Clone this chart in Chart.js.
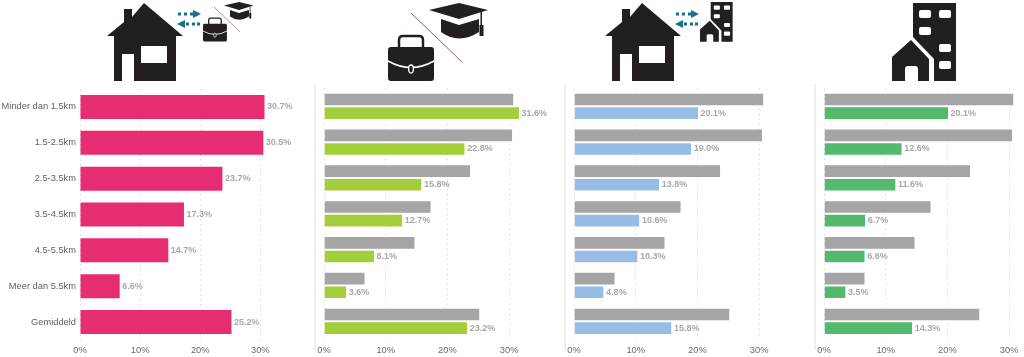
<!DOCTYPE html>
<html lang="nl">
<head>
<meta charset="utf-8">
<title>Afstand</title>
<script src="https://cdn.jsdelivr.net/npm/chart.js@4"></script>
<style>
  html, body { margin: 0; padding: 0; background: #fff; overflow: hidden; }
  #page { position: relative; width: 1024px; height: 357px; overflow: hidden; }
  canvas { position: absolute; top: 0; }
  .sep { position: absolute; top: 84px; width: 2px; height: 266px; background: #efefef; }
  #icons { position: absolute; left: 0; top: 0; }
</style>
</head>
<body>
<div id="page">
  <div class="sep" style="left:314px"></div>
  <div class="sep" style="left:564px"></div>
  <div class="sep" style="left:814px"></div>
  <canvas id="c1" width="310" height="357" style="left:0"></canvas>
  <canvas id="c2" width="255" height="357" style="left:300px"></canvas>
  <canvas id="c3" width="255" height="357" style="left:550px"></canvas>
  <canvas id="c4" width="255" height="357" style="left:800px"></canvas>

  <svg id="icons" width="1024" height="84" viewBox="0 0 1024 84">
    <defs>
      <symbol id="huis" overflow="visible">
        <path fill="#231f20" d="M37 0 L76 33 H69 V78 H27 V51 H15 V78 H7 V33 H0 L17 19 V6 H25 V14 Z"/>
        <rect x="34" y="43" width="26" height="17" fill="#fff"/>
      </symbol>
      <symbol id="koffer" overflow="visible">
        <path d="M11 14 V6 Q11 2 15 2 H31 Q35 2 35 6 V14" fill="none" stroke="#231f20" stroke-width="2.5"/>
        <rect x="0" y="13" width="46" height="34" rx="3" fill="#231f20"/>
        <path d="M0 27 Q23 40 46 27" fill="none" stroke="#fff" stroke-width="1.6"/>
        <ellipse cx="23" cy="35" rx="2.4" ry="4" fill="#231f20" stroke="#fff" stroke-width="1.3"/>
      </symbol>
      <symbol id="hoed" overflow="visible">
        <path fill="#231f20" d="M12 16 L30 22 L50 16 V29 Q30 42 12 29 Z"/>
        <path fill="#231f20" d="M0 7 L30 0 L59 7 L30 16 Z"/>
        <rect x="51.5" y="9" width="1.5" height="14" fill="#231f20"/>
        <rect x="50.5" y="22" width="4" height="11" fill="#231f20"/>
      </symbol>
      <symbol id="stad" overflow="visible">
        <path fill="#231f20" d="M21 0 H64 V78 H42 V56 L21 34 Z"/>
        <path fill="#231f20" d="M0 78 V54 L19 37 L37 56 V78 H26 V66 Q26 63 23 63 H16 Q13 63 13 66 V78 Z"/>
        <g fill="#fff">
          <rect x="27" y="7" width="12" height="8" rx="2"/>
          <rect x="47" y="7" width="12" height="8" rx="2"/>
          <rect x="27" y="24" width="12" height="8" rx="2"/>
          <rect x="47" y="41" width="12" height="8" rx="2"/>
          <rect x="47" y="58" width="12" height="8" rx="2"/>
        </g>
      </symbol>
      <symbol id="pijlen" overflow="visible">
        <g fill="#1a6e8e">
          <rect x="0" y="2.5" width="3" height="3"/>
          <rect x="6" y="2.5" width="3" height="3"/>
          <rect x="12" y="2.5" width="3" height="3"/>
          <path d="M15 0 L23 4 L15 8 Z"/>
          <path d="M7 10 L-1 14 L7 18 Z"/>
          <rect x="8" y="12.5" width="3" height="3"/>
          <rect x="14" y="12.5" width="3" height="3"/>
          <rect x="19" y="12.5" width="3" height="3"/>
        </g>
      </symbol>
    </defs>

    <!-- paneel 1 -->
    <use href="#huis" x="107" y="3"/>
    <use href="#pijlen" x="178" y="10"/>
    <use href="#koffer" transform="translate(203 17) scale(0.52)"/>
    <use href="#hoed" transform="translate(224 2) scale(0.5)"/>
    <line x1="214" y1="7" x2="240" y2="32" stroke="#a86aa6" stroke-width="0.8"/>

    <!-- paneel 2 -->
    <use href="#koffer" x="388" y="34"/>
    <use href="#hoed" x="429" y="3"/>
    <line x1="411" y1="13" x2="462" y2="62" stroke="#9b4f96" stroke-width="1"/>

    <!-- paneel 3 -->
    <use href="#huis" x="605" y="3"/>
    <use href="#pijlen" x="676" y="10"/>
    <use href="#stad" transform="translate(700 2) scale(0.51)"/>

    <!-- paneel 4 -->
    <use href="#stad" x="892" y="3"/>
  </svg>
</div>

<script>
const categorieen = ["Minder dan 1.5km", "1.5-2.5km", "2.5-3.5km", "3.5-4.5km", "4.5-5.5km", "Meer dan 5.5km", "Gemiddeld"];
const thuisWerkStudie = [30.7, 30.5, 23.7, 17.3, 14.7, 6.6, 25.2];
const werkStudie = [31.6, 22.8, 15.8, 12.7, 8.1, 3.6, 23.2];
const thuisStad = [20.1, 19.0, 13.8, 10.6, 10.3, 4.8, 15.8];
const stad = [20.1, 12.6, 11.6, 6.7, 6.6, 3.5, 14.3];

const FONT = "'Liberation Sans', Arial, sans-serif";

// waardes achter de gekleurde balken
const waardeLabels = {
    id: "waardeLabels",
    afterDatasetsDraw(chart) {
        const ctx = chart.ctx;
        const laatste = chart.data.datasets.length - 1;
        const meta = chart.getDatasetMeta(laatste);
        ctx.save();
        ctx.font = "bold 9px " + FONT;
        ctx.fillStyle = "#a8a8a8";
        ctx.textAlign = "left";
        ctx.textBaseline = "middle";
        meta.data.forEach((bar, i) => {
            const v = chart.data.datasets[laatste].data[i];
            ctx.fillText(v.toFixed(1) + "%", bar.x + 2.5, bar.y);
        });
        ctx.restore();
    }
};

function maakGrafiek(id, series, links, schaal, metLabels) {
    const breedte = document.getElementById(id).width;
    const groep = series.length > 1;
    const datasets = series.map(s => ({
        data: s.data,
        backgroundColor: s.kleur,
        borderColor: "#fff",
        borderWidth: groep ? { top: 1, bottom: 1, left: 0, right: 0 } : 0,
        borderSkipped: false,
        categoryPercentage: groep ? 0.76 : 0.67,
        barPercentage: 1
    }));

    return new Chart(document.getElementById(id), {
        type: "bar",
        data: { labels: categorieen, datasets: datasets },
        plugins: [waardeLabels],
        options: {
            indexAxis: "y",
            responsive: false,
            animation: false,
            layout: {
                padding: { top: groep ? 88.4 : 89, bottom: 0, left: 0, right: breedte - links - 35 * schaal }
            },
            plugins: { legend: { display: false }, tooltip: { enabled: false } },
            scales: {
                x: {
                    min: 0,
                    max: 35,
                    afterFit: s => { s.height = groep ? 17.8 : 17; },
                    border: { display: false, dash: [2, 3] },
                    grid: { color: "#e2e2e2", lineWidth: 1, drawTicks: false },
                    ticks: {
                        stepSize: 10,
                        includeBounds: false,
                        padding: groep ? 6 : 5,
                        maxRotation: 0,
                        color: "#6b6b6b",
                        font: { family: FONT, size: 9.3 },
                        callback: v => v + "%"
                    }
                },
                y: {
                    display: metLabels,
                    afterFit: s => { s.width = links; },
                    border: { display: false },
                    grid: { display: false, drawTicks: false },
                    ticks: {
                        autoSkip: false,
                        padding: 4,
                        color: "#5f5f5f",
                        font: { family: FONT, size: 9.3 }
                    }
                }
            }
        }
    });
}

const grijs = "#a6a5a6";
maakGrafiek("c1", [{ data: thuisWerkStudie, kleur: "#e72d72" }], 80, 6.01, true);
maakGrafiek("c2", [{ data: thuisWerkStudie, kleur: grijs }, { data: werkStudie, kleur: "#a4ce39" }], 24, 6.17, false);
maakGrafiek("c3", [{ data: thuisWerkStudie, kleur: grijs }, { data: thuisStad, kleur: "#97bde6" }], 24, 6.17, false);
maakGrafiek("c4", [{ data: thuisWerkStudie, kleur: grijs }, { data: stad, kleur: "#52b96d" }], 24, 6.17, false);
</script>
</body>
</html>
